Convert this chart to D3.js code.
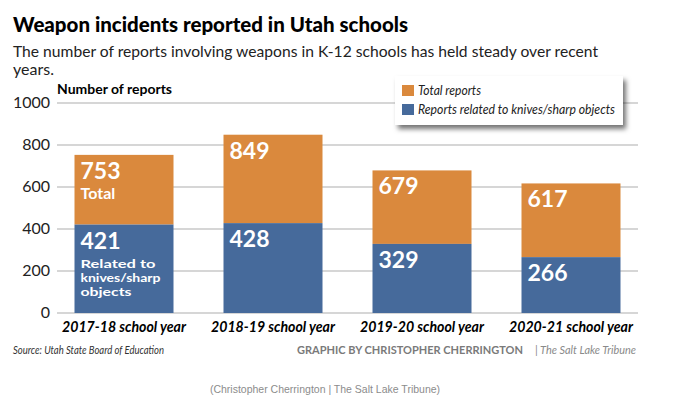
<!DOCTYPE html>
<html>
<head>
<meta charset="utf-8">
<script src="https://cdn.jsdelivr.net/npm/d3@7"></script>
<style>
  body { margin: 0; background: #fff; }
  text { font-family: Lato, "Open Sans", sans-serif; }
</style>
</head>
<body>
<script>
var width = 680,
    height = 413;

var categories = ["2017-18 school year", "2018-19 school year", "2019-20 school year", "2020-21 school year"];
var totals = [753, 849, 679, 617];
var knives = [421, 428, 329, 266];
var yTicks = [0, 200, 400, 600, 800, 1000];
var legendLabels = ["Total reports", "Reports related to knives/sharp objects"];
var knivesNote = ["Related to", "knives/sharp", "objects"];

var orange = "#da893d",
    blue = "#466a9b";

var svg = d3.select("body").append("svg")
    .attr("width", width)
    .attr("height", height);

var x = d3.scaleBand()
    .domain(categories)
    .range([49.5, 645.5])
    .paddingInner(50 / 149)
    .paddingOuter(25 / 149);

var y = d3.scaleLinear()
    .domain([0, 1000])
    .range([313, 103]);

// fit a text to a width measured on the picture
function fit(sel, w) {
    sel.attr("textLength", w).attr("lengthAdjust", "spacingAndGlyphs");
    return sel;
}

// title + subtitle
fit(svg.append("text")
    .attr("x", 13).attr("y", 32)
    .style("font-size", "21px").style("font-weight", 900)
    .text("Weapon incidents reported in Utah schools"), 395);

fit(svg.append("text")
    .attr("x", 13).attr("y", 57)
    .style("font-size", "16px").style("fill", "#222")
    .text("The number of reports involving weapons in K-12 schools has held steady over recent"), 585);

svg.append("text")
    .attr("x", 13).attr("y", 75)
    .style("font-size", "16px").style("fill", "#222")
    .text("years.");

// gridlines + y labels
svg.append("g").selectAll("line")
    .data(yTicks)
    .enter().append("line")
    .attr("x1", 57)
    .attr("x2", 638)
    .attr("y1", function(d) { return y(d); })
    .attr("y2", function(d) { return y(d); })
    .style("stroke", "#c9c9c9")
    .style("stroke-width", 1.5);

svg.append("g").selectAll("text")
    .data(yTicks)
    .enter().append("text")
    .attr("x", 50)
    .attr("y", function(d) { return y(d) + 5; })
    .attr("text-anchor", "end")
    .style("font-size", "16px")
    .style("fill", "#222")
    .text(function(d) { return d; });

fit(svg.append("text")
    .attr("x", 57).attr("y", 94)
    .style("font-size", "13.5px").style("font-weight", "bold")
    .text("Number of reports"), 115);

// bars
var bars = svg.append("g").selectAll("g")
    .data(categories)
    .enter().append("g");

bars.append("rect")
    .attr("x", function(d) { return x(d); })
    .attr("width", x.bandwidth())
    .attr("y", function(d, i) { return y(totals[i]); })
    .attr("height", function(d, i) { return y(knives[i]) - y(totals[i]); })
    .style("fill", orange);

bars.append("rect")
    .attr("x", function(d) { return x(d); })
    .attr("width", x.bandwidth())
    .attr("y", function(d, i) { return y(knives[i]); })
    .attr("height", function(d, i) { return y(0) - y(knives[i]); })
    .style("fill", blue);

bars.append("text")
    .attr("x", function(d) { return x(d) + 6; })
    .attr("y", function(d, i) { return y(totals[i]) + 24; })
    .style("font-size", "23px").style("font-weight", "bold").style("fill", "#fff")
    .text(function(d, i) { return totals[i]; });

bars.append("text")
    .attr("x", function(d) { return x(d) + 6; })
    .attr("y", function(d, i) { return y(knives[i]) + 24; })
    .style("font-size", "23px").style("font-weight", "bold").style("fill", "#fff")
    .text(function(d, i) { return knives[i]; });

// extra notes only on the first bar
var first = categories[0];
svg.append("text")
    .attr("x", x(first) + 6).attr("y", y(totals[0]) + 44)
    .style("font-size", "16px").style("font-weight", "bold").style("fill", "#fff")
    .text("Total");

svg.append("g").selectAll("text")
    .data(knivesNote)
    .enter().append("text")
    .attr("x", x(first) + 6)
    .attr("y", function(d, i) { return y(knives[0]) + 43 + i * 14.2; })
    .style("font-size", "12px").style("font-weight", "bold").style("fill", "#fff")
    .each(function(d, i) { fit(d3.select(this), [75, 80, 51][i]); })
    .text(function(d) { return d; });

// category labels
svg.append("g").selectAll("text")
    .data(categories)
    .enter().append("text")
    .attr("x", function(d) { return x(d) + x.bandwidth() / 2; })
    .attr("y", 332)
    .attr("text-anchor", "middle")
    .style("font-size", "16px").style("font-weight", "bold").style("font-style", "italic")
    .each(function() { fit(d3.select(this), 124); })
    .text(function(d) { return d; });

// legend
var defs = svg.append("defs");
var f = defs.append("filter").attr("id", "shadow")
    .attr("x", "-10%").attr("y", "-20%").attr("width", "130%").attr("height", "160%");
f.append("feDropShadow")
    .attr("dx", 3).attr("dy", 4)
    .attr("stdDeviation", 2.5)
    .attr("flood-color", "#000").attr("flood-opacity", 0.55);

var legend = svg.append("g").attr("transform", "translate(395,76)");
legend.append("rect")
    .attr("width", 228).attr("height", 49)
    .style("fill", "#fff")
    .style("filter", "url(#shadow)");

var li = legend.selectAll("g.item")
    .data(legendLabels)
    .enter().append("g")
    .attr("class", "item")
    .attr("transform", function(d, i) { return "translate(7," + (9 + i * 19) + ")"; });

li.append("rect")
    .attr("width", 12).attr("height", 11)
    .style("fill", function(d, i) { return i === 0 ? orange : blue; });

li.append("text")
    .attr("x", 16).attr("y", 9.5)
    .style("font-size", "13px").style("font-style", "italic").style("fill", "#222")
    .each(function(d, i) { fit(d3.select(this), i === 0 ? 63 : 197); })
    .text(function(d) { return d; });

// footer
fit(svg.append("text")
    .attr("x", 13).attr("y", 354)
    .style("font-size", "11.5px").style("font-style", "italic").style("fill", "#333")
    .text("Source: Utah State Board of Education"), 151);

fit(svg.append("text")
    .attr("x", 297).attr("y", 354)
    .style("font-size", "11.5px").style("font-weight", "bold").style("fill", "#7a7a7a")
    .text("GRAPHIC BY CHRISTOPHER CHERRINGTON"), 226);

fit(svg.append("text")
    .attr("x", 535).attr("y", 354)
    .style("font-size", "11.5px").style("font-style", "italic").style("fill", "#8a8a8a")
    .text("| The Salt Lake Tribune"), 101);

svg.append("text")
    .attr("x", 325).attr("y", 393)
    .attr("text-anchor", "middle")
    .style("font-family", "'Liberation Sans', Arial, sans-serif")
    .style("font-size", "10.5px").style("fill", "#8c8c8c")
    .text("(Christopher Cherrington | The Salt Lake Tribune)");
</script>
</body>
</html>
